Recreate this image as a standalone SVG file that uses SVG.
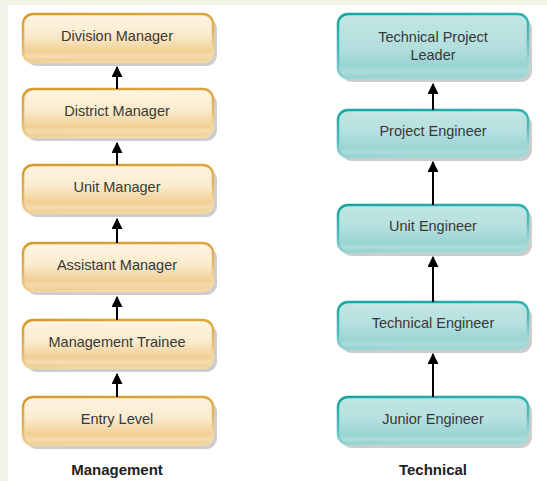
<svg xmlns="http://www.w3.org/2000/svg" width="547" height="481" viewBox="0 0 547 481">
<defs>
<linearGradient id="gOr" x1="0" y1="0" x2="0" y2="1">
<stop offset="0" stop-color="#fdf5e3"/>
<stop offset="0.45" stop-color="#faebcd"/>
<stop offset="0.78" stop-color="#f1cf93"/>
<stop offset="0.88" stop-color="#f5dcae"/>
<stop offset="1" stop-color="#eecb8d"/>
</linearGradient>
<linearGradient id="sOr" x1="0" y1="0" x2="0.3" y2="1">
<stop offset="0" stop-color="#d8992a"/>
<stop offset="0.6" stop-color="#e4b560"/>
<stop offset="1" stop-color="#f2d9a6"/>
</linearGradient>
<linearGradient id="gTe" x1="0" y1="0" x2="0" y2="1">
<stop offset="0" stop-color="#c2e6e5"/>
<stop offset="0.5" stop-color="#b4dfde"/>
<stop offset="0.8" stop-color="#9ad4d2"/>
<stop offset="0.9" stop-color="#acdcda"/>
<stop offset="1" stop-color="#93d1cf"/>
</linearGradient>
<linearGradient id="sTe" x1="0" y1="0" x2="0.3" y2="1">
<stop offset="0" stop-color="#12a6a3"/>
<stop offset="0.6" stop-color="#4dbdba"/>
<stop offset="1" stop-color="#a3d9d7"/>
</linearGradient>
<marker id="ah" viewBox="0 0 10 10" refX="9" refY="5" markerWidth="5.5" markerHeight="5.5" orient="auto" markerUnits="strokeWidth">
<path d="M0,0 L10,5 L0,10 z" fill="#000"/>
</marker>
</defs>
<style>
.sh{fill:#cdcdcd}
.bo{fill:url(#gOr);stroke:url(#sOr);stroke-width:2.5}
.bt{fill:url(#gTe);stroke:url(#sTe);stroke-width:2.5}
.t{font-family:"Liberation Sans",Arial,sans-serif;font-size:14.5px;fill:#383838;text-anchor:middle}
.h{font-family:"Liberation Sans",Arial,sans-serif;font-size:15px;font-weight:bold;fill:#222;text-anchor:middle}
.c{stroke:#000;stroke-width:2;fill:none;marker-end:url(#ah)}
</style>
<rect x="0" y="0" width="547" height="481" fill="#ffffff"/>
<rect x="0" y="0" width="547" height="5" fill="#f1f4e7"/>
<rect x="0" y="0" width="8" height="481" fill="#f1f4e7"/>

<g id="division-manager">
<rect class="sh" x="26" y="18" width="191" height="48" rx="11"/>
<rect class="bo" x="23" y="14" width="190" height="48" rx="10"/>
<text class="t" x="117" y="41">Division Manager</text>
</g>
<g id="district-manager">
<rect class="sh" x="26" y="93" width="191" height="48" rx="11"/>
<rect class="bo" x="23" y="89" width="190" height="48" rx="10"/>
<text class="t" x="117" y="116">District Manager</text>
</g>
<g id="unit-manager">
<rect class="sh" x="26" y="169" width="191" height="48" rx="11"/>
<rect class="bo" x="23" y="165" width="190" height="48" rx="10"/>
<text class="t" x="117" y="192">Unit Manager</text>
</g>
<g id="assistant-manager">
<rect class="sh" x="26" y="247" width="191" height="48" rx="11"/>
<rect class="bo" x="23" y="243" width="190" height="48" rx="10"/>
<text class="t" x="117" y="270">Assistant Manager</text>
</g>
<g id="management-trainee">
<rect class="sh" x="26" y="324" width="191" height="48" rx="11"/>
<rect class="bo" x="23" y="320" width="190" height="48" rx="10"/>
<text class="t" x="117" y="347">Management Trainee</text>
</g>
<g id="entry-level">
<rect class="sh" x="26" y="401" width="191" height="48" rx="11"/>
<rect class="bo" x="23" y="397" width="190" height="48" rx="10"/>
<text class="t" x="117" y="424">Entry Level</text>
</g>

<g id="technical-project-leader">
<rect class="sh" x="341" y="18" width="191" height="64" rx="11"/>
<rect class="bt" x="338" y="14" width="190" height="64" rx="10"/>
<text class="t" x="433" y="42">Technical Project</text>
<text class="t" x="433" y="60">Leader</text>
</g>
<g id="project-engineer">
<rect class="sh" x="341" y="114" width="191" height="47" rx="11"/>
<rect class="bt" x="338" y="110" width="190" height="47" rx="10"/>
<text class="t" x="433" y="136">Project Engineer</text>
</g>
<g id="unit-engineer">
<rect class="sh" x="341" y="209" width="191" height="47" rx="11"/>
<rect class="bt" x="338" y="205" width="190" height="47" rx="10"/>
<text class="t" x="433" y="231">Unit Engineer</text>
</g>
<g id="technical-engineer">
<rect class="sh" x="341" y="306" width="191" height="47" rx="11"/>
<rect class="bt" x="338" y="302" width="190" height="47" rx="10"/>
<text class="t" x="433" y="328">Technical Engineer</text>
</g>
<g id="junior-engineer">
<rect class="sh" x="341" y="401" width="191" height="47" rx="11"/>
<rect class="bt" x="338" y="397" width="190" height="47" rx="10"/>
<text class="t" x="433" y="424">Junior Engineer</text>
</g>

<g id="connectors">
<line class="c" x1="117" y1="89" x2="117" y2="67"/>
<line class="c" x1="117" y1="165" x2="117" y2="143"/>
<line class="c" x1="117" y1="243" x2="117" y2="219"/>
<line class="c" x1="117" y1="320" x2="117" y2="297"/>
<line class="c" x1="117" y1="397" x2="117" y2="374"/>
<line class="c" x1="433" y1="110" x2="433" y2="84"/>
<line class="c" x1="433" y1="205" x2="433" y2="162"/>
<line class="c" x1="433" y1="302" x2="433" y2="257"/>
<line class="c" x1="433" y1="397" x2="433" y2="354"/>
</g>

<text class="h" x="117" y="475">Management</text>
<text class="h" x="433" y="475">Technical</text>
</svg>
